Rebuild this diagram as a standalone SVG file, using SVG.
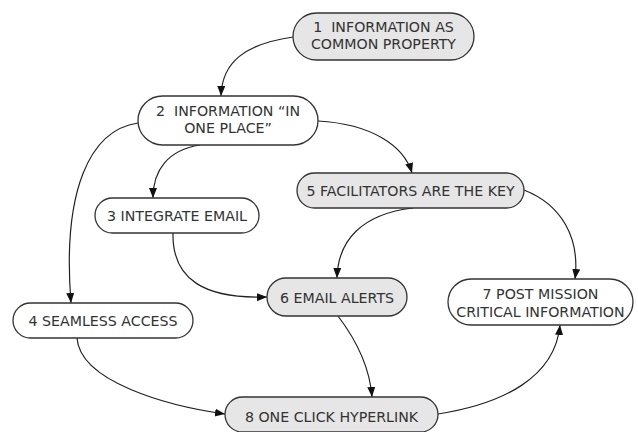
<svg xmlns="http://www.w3.org/2000/svg" width="638" height="432" viewBox="0 0 638 432">
<defs>
<marker id="arr" markerUnits="userSpaceOnUse" markerWidth="11" markerHeight="9" refX="10" refY="4" orient="auto">
<path d="M0,0 L10,4 L0,8 Z" fill="#111"/>
</marker>
<style>
.n rect{stroke:#333;stroke-width:1.3;fill:#fff}
.g rect{fill:#e6e6e6}
.n text{font-family:"DejaVu Sans",Verdana,sans-serif;font-size:14.2px;fill:#333;text-anchor:middle;white-space:pre}
.c path{fill:none;stroke:#222;stroke-width:1.2;marker-end:url(#arr)}
</style>
</defs>
<rect width="638" height="432" fill="#fff"/>
<g class="c" id="connectors">
<path d="M293,37 C245,44 222,62 221,96"/>
<path d="M200,145 C168,150 153,170 153,198"/>
<path d="M138,123 C90,130 62,190 71,303"/>
<path d="M318,121 C372,124 404,146 412,173"/>
<path d="M413,208 C362,214 338,240 337,278"/>
<path d="M524,190 C562,205 580,238 575,279"/>
<path d="M173,233 C172,280 205,299 267,297"/>
<path d="M77,338 C80,382 168,406 225,414"/>
<path d="M338,316 C360,345 370,370 372,397"/>
<path d="M438,414 C502,404 555,378 560,325"/>
</g>
<g id="n1" class="n g"><rect x="293" y="13" width="181" height="47" rx="23.5"/><text x="383.5" y="32" xml:space="preserve">1  INFORMATION AS</text><text x="383.5" y="49">COMMON PROPERTY</text></g>
<g id="n2" class="n"><rect x="138" y="96" width="180" height="49" rx="24.5"/><text x="228" y="116" xml:space="preserve">2  INFORMATION “IN</text><text x="228" y="133">ONE PLACE”</text></g>
<g id="n3" class="n"><rect x="95" y="198" width="164" height="35" rx="17.5"/><text x="177" y="220.5">3 INTEGRATE EMAIL</text></g>
<g id="n4" class="n"><rect x="13" y="303" width="180" height="35" rx="17.5"/><text x="103" y="325.5">4 SEAMLESS ACCESS</text></g>
<g id="n5" class="n g"><rect x="297" y="173" width="227" height="35" rx="17.5"/><text x="410.5" y="195.5">5 FACILITATORS ARE THE KEY</text></g>
<g id="n6" class="n g"><rect x="267" y="278" width="140" height="38" rx="19"/><text x="337" y="302.5">6 EMAIL ALERTS</text></g>
<g id="n7" class="n"><rect x="448" y="279" width="185" height="46" rx="23"/><text x="540.5" y="299">7 POST MISSION</text><text x="540.5" y="317">CRITICAL INFORMATION</text></g>
<g id="n8" class="n g"><rect x="225" y="397" width="213" height="35" rx="17.5"/><text x="331.5" y="421.5">8 ONE CLICK HYPERLINK</text></g>
</svg>
